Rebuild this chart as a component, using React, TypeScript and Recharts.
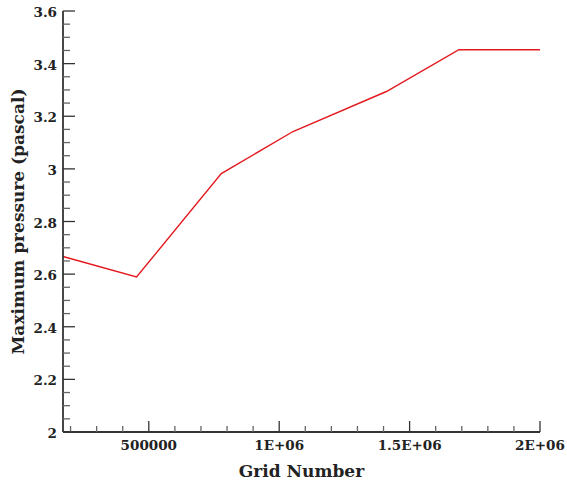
import { LineChart, Line, XAxis, YAxis } from "recharts";

const gridNumber = [171000, 453000, 778000, 1053000, 1411000, 1689000, 2000000];
const maxPressure = [2.667, 2.589, 2.982, 3.142, 3.294, 3.453, 3.453];

const xTicks = [
  200000, 300000, 400000, 500000, 600000, 700000, 800000, 900000, 1000000, 1100000,
  1200000, 1300000, 1400000, 1500000, 1600000, 1700000, 1800000, 1900000, 2000000,
];
const xMajor = [500000, 1000000, 1500000, 2000000];
const xLabels = ["500000", "1E+06", "1.5E+06", "2E+06"];

const yTicks = [
  2, 2.05, 2.1, 2.15, 2.2, 2.25, 2.3, 2.35, 2.4, 2.45, 2.5, 2.55, 2.6, 2.65, 2.7, 2.75, 2.8,
  2.85, 2.9, 2.95, 3, 3.05, 3.1, 3.15, 3.2, 3.25, 3.3, 3.35, 3.4, 3.45, 3.5, 3.55, 3.6,
];
const yMajor = [2, 2.2, 2.4, 2.6, 2.8, 3, 3.2, 3.4, 3.6];
const yLabels = ["2", "2.2", "2.4", "2.6", "2.8", "3", "3.2", "3.4", "3.6"];

const data = gridNumber.map((g, i) => ({ grid: g, pressure: maxPressure[i] }));

const font = "'DejaVu Serif', serif";
const ink = "#222";
const axisColor = "#333";

function XTick(props: any) {
  const { x, y, payload } = props;
  const idx = xMajor.indexOf(payload.value);
  const major = idx >= 0;
  return (
    <g>
      <line x1={x} x2={x} y1={y} y2={y - (major ? 11 : 6)} stroke={major ? axisColor : "#666"} strokeWidth={1.3} />
      {major && (
        <text x={x} y={y + 18} textAnchor="middle" fontFamily={font} fontWeight="bold" fontSize={13.5} fill={ink}>
          {xLabels[idx]}
        </text>
      )}
    </g>
  );
}

function YTick(props: any) {
  const { x, y, payload } = props;
  const idx = yMajor.findIndex((v) => Math.abs(v - payload.value) < 1e-6);
  const major = idx >= 0;
  return (
    <g>
      <line x1={x} x2={x + (major ? 12 : 7)} y1={y} y2={y} stroke={major ? axisColor : "#666"} strokeWidth={1.3} />
      {major && (
        <text x={x - 6} y={y + 6} textAnchor="end" fontFamily={font} fontWeight="bold" fontSize={13.5} fill={ink}>
          {yLabels[idx]}
        </text>
      )}
    </g>
  );
}

export default function App() {
  return (
    <div style={{ position: "absolute", left: 0, top: 0, width: 567, height: 486, background: "#fff" }}>
      <LineChart width={567} height={486} data={data} margin={{ top: 11, right: 27, bottom: 0, left: 13 }}>
        <XAxis
          dataKey="grid"
          type="number"
          domain={[171000, 2000000]}
          ticks={xTicks}
          interval={0}
          tickSize={0}
          tickMargin={0}
          tickLine={false}
          tick={<XTick />}
          height={54}
          axisLine={{ stroke: axisColor, strokeWidth: 1.8 }}
          label={{
            value: "Grid Number",
            position: "insideBottom",
            offset: 9,
            style: { fontFamily: font, fontWeight: "bold", fontSize: 17, fill: ink },
          }}
        />
        <XAxis
          xAxisId="top"
          orientation="top"
          type="number"
          domain={[171000, 2000000]}
          height={0}
          tick={false}
          tickLine={false}
          axisLine={{ stroke: axisColor, strokeWidth: 1.8 }}
        />
        <YAxis
          type="number"
          domain={[2, 3.6]}
          ticks={yTicks}
          interval={0}
          tickSize={0}
          tickMargin={0}
          tickLine={false}
          tick={<YTick />}
          width={50}
          axisLine={{ stroke: axisColor, strokeWidth: 1.8 }}
          label={{
            value: "Maximum pressure (pascal)",
            angle: -90,
            position: "insideLeft",
            offset: 5,
            style: { fontFamily: font, fontWeight: "bold", fontSize: 17, fill: ink, textAnchor: "middle" },
          }}
        />
        <YAxis
          yAxisId="right"
          orientation="right"
          type="number"
          domain={[2, 3.6]}
          width={0}
          tick={false}
          tickLine={false}
          axisLine={{ stroke: axisColor, strokeWidth: 1.8 }}
        />
        <Line
          type="linear"
          dataKey="pressure"
          stroke="#e3191e"
          strokeWidth={1.4}
          dot={false}
          isAnimationActive={false}
        />
      </LineChart>
    </div>
  );
}
